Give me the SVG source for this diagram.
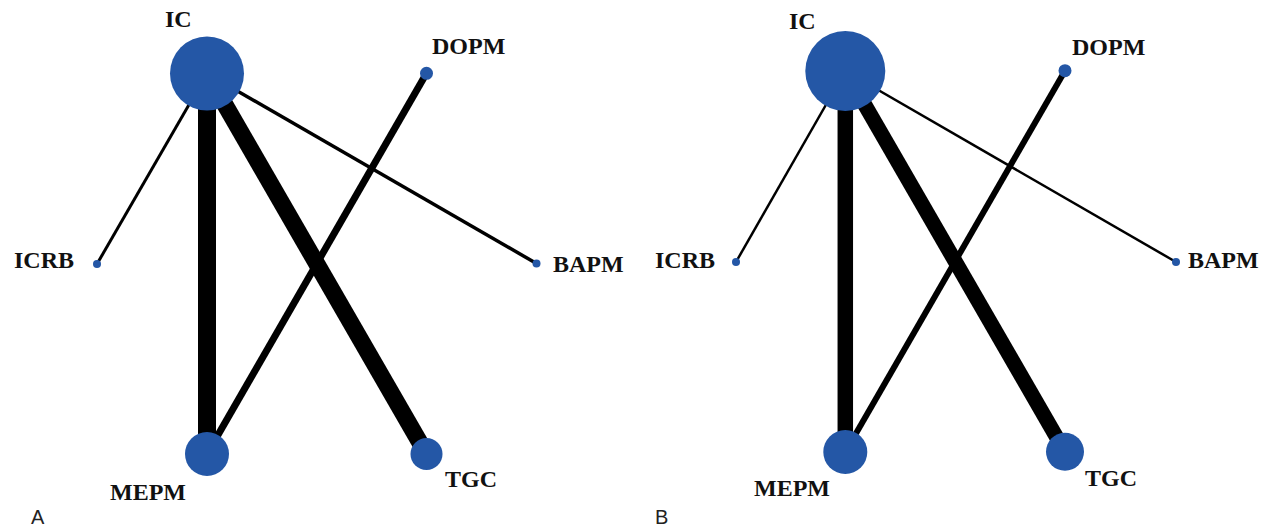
<svg xmlns="http://www.w3.org/2000/svg" width="1272" height="529" viewBox="0 0 1272 529">
<style>
.n{fill:#2457a6}
.e{stroke:#000;fill:none;stroke-linecap:butt}
.l{font-family:"Liberation Serif","Times New Roman",serif;font-weight:bold;font-size:24px;fill:#111}
.p{font-family:"Liberation Sans",Arial,sans-serif;font-size:20px;fill:#222}
</style>
<rect width="1272" height="529" fill="#fff"/>
<g id="connectors-A">
<line class="e" x1="207" y1="73.5" x2="97" y2="264" stroke-width="3"/>
<line class="e" x1="207" y1="73.5" x2="536.5" y2="263.5" stroke-width="3.5"/>
<line class="e" x1="207" y1="73.5" x2="207" y2="454" stroke-width="18"/>
<line class="e" x1="207" y1="73.5" x2="426.5" y2="454" stroke-width="17"/>
<line class="e" x1="426.5" y1="73.3" x2="207" y2="454" stroke-width="7"/>
</g>
<g id="A-IC"><circle class="n" cx="207" cy="73.5" r="37"/><text class="l" x="165" y="27">IC</text></g>
<g id="A-DOPM"><circle class="n" cx="426.5" cy="73.3" r="6.5"/><text class="l" x="432" y="54">DOPM</text></g>
<g id="A-ICRB"><circle class="n" cx="97" cy="264" r="4"/><text class="l" x="14" y="267.5">ICRB</text></g>
<g id="A-BAPM"><circle class="n" cx="536.5" cy="263.5" r="4"/><text class="l" x="553" y="272">BAPM</text></g>
<g id="A-MEPM"><circle class="n" cx="207" cy="454" r="22"/><text class="l" x="110" y="500">MEPM</text></g>
<g id="A-TGC"><circle class="n" cx="426.5" cy="454" r="16"/><text class="l" x="445" y="487">TGC</text></g>
<text class="p" x="31" y="524">A</text>
<g id="connectors-B">
<line class="e" x1="845.3" y1="71" x2="736" y2="262" stroke-width="2.5"/>
<line class="e" x1="845.3" y1="71" x2="1176" y2="262" stroke-width="2.5"/>
<line class="e" x1="845.3" y1="71" x2="845.3" y2="452" stroke-width="15.5"/>
<line class="e" x1="845.3" y1="71" x2="1065" y2="451.7" stroke-width="15"/>
<line class="e" x1="1065" y1="70.7" x2="845.3" y2="452" stroke-width="6"/>
</g>
<g id="B-IC"><circle class="n" cx="845.3" cy="71" r="40"/><text class="l" x="789" y="29">IC</text></g>
<g id="B-DOPM"><circle class="n" cx="1065" cy="70.7" r="6.5"/><text class="l" x="1072" y="55">DOPM</text></g>
<g id="B-ICRB"><circle class="n" cx="736" cy="262" r="4"/><text class="l" x="655" y="268">ICRB</text></g>
<g id="B-BAPM"><circle class="n" cx="1176" cy="262" r="4"/><text class="l" x="1188" y="268">BAPM</text></g>
<g id="B-MEPM"><circle class="n" cx="845.3" cy="452" r="22"/><text class="l" x="754" y="496">MEPM</text></g>
<g id="B-TGC"><circle class="n" cx="1065" cy="451.7" r="19"/><text class="l" x="1085" y="486">TGC</text></g>
<text class="p" x="655" y="524">B</text>
</svg>
